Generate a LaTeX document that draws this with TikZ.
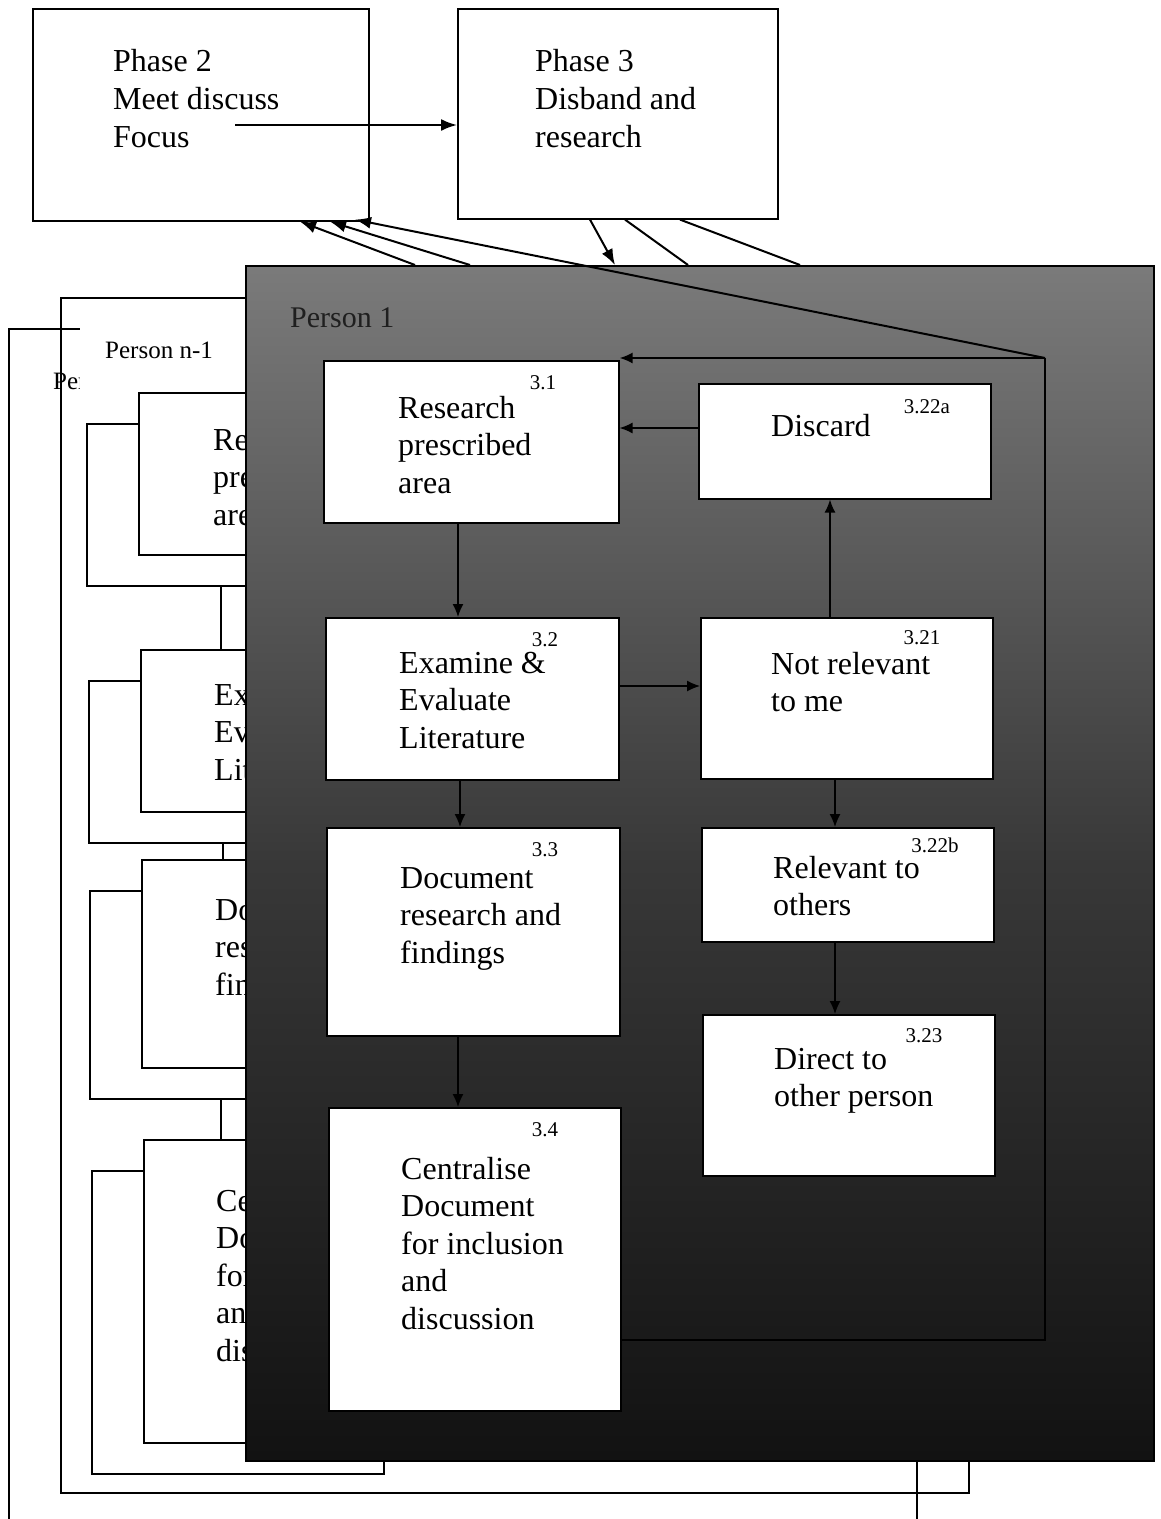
\documentclass[tikz,border=0pt]{standalone}
\usepackage{fontspec}
\setmainfont{Liberation Serif}
\usetikzlibrary{arrows.meta,calc}
\tikzset{
 box/.style={draw=black, fill=white, line width=1.6pt, anchor=north west, inner sep=0pt},
 btxt/.style={anchor=north west, inner sep=0pt, align=left, font=\fontsize{32}{37.5}\selectfont},
 ptxt/.style={anchor=north west, inner sep=0pt, align=left, font=\fontsize{32}{38}\selectfont},
 bnum/.style={inner sep=0pt, font=\fontsize{21}{24}\selectfont},
 conn/.style={line width=1.4pt, -{Latex[length=13pt,width=11pt]}},
 loopline/.style={line width=1.8pt},
 bigarr/.style={line width=2pt, -{Latex[length=16pt,width=12pt]}},
 plainline/.style={line width=2pt},
 plainpage/.style={draw=black, line width=1.6pt, anchor=north west, inner sep=0pt},
 darkpage/.style={draw=black, line width=1.6pt, anchor=north west, inner sep=0pt,
   top color=black!52, bottom color=black!93, middle color=black!78},
 lablight/.style={font=\fontsize{30}{36}\selectfont, text=black!88},
 labplain/.style={font=\fontsize{25}{30}\selectfont, text=black},
}
% frame of one person's sheet: #1 prefix, #2 label, #3 page style, #4 patch colour, #5 label style
\newcommand\SheetFrame[5]{%
 \node[#3, minimum width=908pt, minimum height=1195pt] (#1page) at (245,265) {};
 \path[fill=#4] (265,293) rectangle (440,363);
 \node[anchor=west, inner sep=0pt, #5] (#1lab) at (290,318) {#2};
 \node[box, minimum width=295pt, minimum height=162pt] (#1b31) at (323,360) {};
 \node[box, minimum width=293pt, minimum height=162pt] (#1b32) at (325,617) {};
 \node[box, minimum width=293pt, minimum height=208pt] (#1b33) at (326,827) {};
 \node[box, minimum width=292pt, minimum height=303pt] (#1b34) at (328,1107) {};
 \node[box, minimum width=292pt, minimum height=115pt] (#1b322a) at (698,383) {};
 \node[box, minimum width=292pt, minimum height=161pt] (#1b321) at (700,617) {};
 \node[box, minimum width=292pt, minimum height=114pt] (#1b322b) at (701,827) {};
 \node[box, minimum width=292pt, minimum height=161pt] (#1b323) at (702,1014) {};
 \coordinate (#1c1) at ([xshift=135pt]#1b31.south west);
 \draw[conn] (#1c1) -- (#1c1 |- #1b32.north);
 \coordinate (#1c2) at ([xshift=135pt]#1b32.south west);
 \draw[conn] (#1c2) -- (#1c2 |- #1b33.north);
 \coordinate (#1c3) at ([xshift=132pt]#1b33.south west);
 \draw[conn] (#1c3) -- (#1c3 |- #1b34.north);
 \coordinate (#1c4) at ([yshift=-69pt]#1b32.north east);
 \draw[conn] (#1c4) -- (#1c4 -| #1b321.west);
 \coordinate (#1c5) at ([xshift=130pt]#1b321.north west);
 \draw[conn] (#1c5) -- (#1c5 |- #1b322a.south);
 \coordinate (#1c6) at ([xshift=135pt]#1b321.south west);
 \draw[conn] (#1c6) -- (#1c6 |- #1b322b.north);
 \coordinate (#1c7) at ([xshift=134pt]#1b322b.south west);
 \draw[conn] (#1c7) -- (#1c7 |- #1b323.north);
 \coordinate (#1c8) at ([yshift=-45pt]#1b322a.north west);
 \draw[conn] (#1c8) -- (#1c8 -| #1b31.east);
 \coordinate (#1c9) at ([yshift=-233pt]#1b34.north east);
 \coordinate (#1lc1) at (1045,1340);
 \coordinate (#1lc2) at (1045,358);
 \draw[loopline] (#1c9) -- (#1lc1) -- (#1lc2);
 \draw[conn, line width=1.8pt] (#1lc2) -- (#1lc2 -| #1b31.east);
}
\newcommand\SheetLeftText[1]{%
 \node[btxt] (#1t31) at (398,396) {Research\\prescribed\\area};
 \node[btxt] (#1t32) at (399,652) {Examine \&\\Evaluate\\Literature};
 \node[btxt] (#1t33) at (400,867) {Document\\research and\\findings};
 \node[btxt] (#1t34) at (401,1157) {Centralise\\Document\\for inclusion\\and\\discussion};
}
\newcommand\SheetRightText[1]{%
 \node[btxt] (#1t322a) at (771,414) {Discard};
 \node[btxt] (#1t321) at (771,652) {Not relevant\\to me};
 \node[btxt] (#1t322b) at (773,856) {Relevant to\\others};
 \node[btxt] (#1t323) at (774,1048) {Direct to\\other person};
 \node[bnum] (#1n31) at (543,383) {3.1};
 \node[bnum] (#1n32) at (545,640) {3.2};
 \node[bnum] (#1n33) at (545,850) {3.3};
 \node[bnum] (#1n34) at (545,1130) {3.4};
 \node[bnum] (#1n322a) at (927,407) {3.22a};
 \node[bnum] (#1n321) at (922,638) {3.21};
 \node[bnum] (#1n322b) at (935,845) {3.22b};
 \node[bnum] (#1n323) at (924,1036) {3.23};
}
\begin{document}
\begin{tikzpicture}[x=1pt, y=-1pt]
\useasboundingbox[fill=white] (0,0) rectangle (1161,1519);
% Person n (furthest back)
\begin{scope}[shift={(-237,63)}]
 \SheetFrame{pn}{Person n}{plainpage}{white}{labplain}
\end{scope}
% Person n-1
\begin{scope}[shift={(-185,32)}]
 \SheetFrame{pm}{Person n-1}{plainpage}{white}{labplain}
 \begin{scope}
  \clip (300,0) rectangle (430,1519);
  \SheetLeftText{pm}
 \end{scope}
\end{scope}
% Person 1 (front)
\SheetFrame{pa}{Person 1}{darkpage}{none}{lablight}
\SheetLeftText{pa}
\SheetRightText{pa}
% Phase boxes
\node[box, minimum width=336pt, minimum height=212pt] (ph2) at (32,8) {};
\node[box, minimum width=320pt, minimum height=210pt] (ph3) at (457,8) {};
\node[ptxt] (ph2t) at (113,49) {Phase 2\\Meet discuss\\Focus};
\node[ptxt] (ph3t) at (535,49) {Phase 3\\Disband and\\research};
\coordinate (a0) at (235,125);
\draw[bigarr] (a0) -- (a0 -| ph3.west);
% arrows from Person 1 back to Phase 2
\coordinate (q1) at ([xshift=170pt]papage.north west);
\coordinate (q2) at ([xshift=225pt]papage.north west);
\coordinate (r1) at ([xshift=268pt]ph2.south west);
\coordinate (r2) at ([xshift=298pt]ph2.south west);
\coordinate (r3) at ([xshift=323pt,yshift=2pt]ph2.south west);
\draw[bigarr] (q1) -- (r1);
\draw[bigarr] (q2) -- (r2);
\draw[bigarr] (palc2) -- (r3);
% lines from Phase 3 to Person 1
\coordinate (s1) at ([xshift=133pt]ph3.south west);
\coordinate (s2) at ([xshift=168pt]ph3.south west);
\coordinate (s3) at ([xshift=223pt]ph3.south west);
\coordinate (u1) at ([xshift=370pt]papage.north west);
\coordinate (u2) at ([xshift=443pt]papage.north west);
\coordinate (u3) at ([xshift=555pt]papage.north west);
\draw[bigarr] (s1) -- (u1);
\draw[plainline] (s2) -- (u2);
\draw[plainline] (s3) -- (u3);
\end{tikzpicture}
\end{document}
